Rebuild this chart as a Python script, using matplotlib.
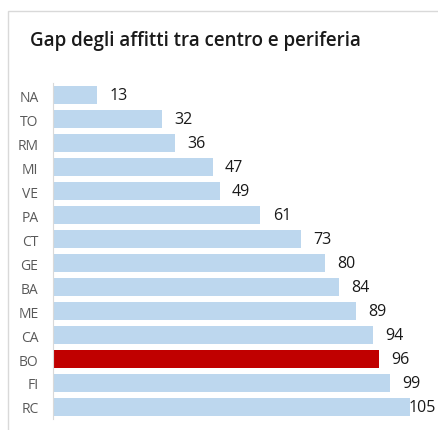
import matplotlib.pyplot as plt
from matplotlib.patches import Rectangle

cities = ["NA", "TO", "RM", "MI", "VE", "PA", "CT", "GE", "BA", "ME", "CA", "BO", "FI", "RC"]
gaps = [13, 32, 36, 47, 49, 61, 73, 80, 84, 89, 94, 96, 99, 105]
highlight = "BO"

W, H = 439, 431
fig = plt.figure(figsize=(W / 100, H / 100), dpi=100)

# chart frame (cut off on right and bottom in the reference)
fig.patches.append(Rectangle((8 / W, -0.1), 1.2, 1.1 - 12 / H, transform=fig.transFigure,
                             fill=False, edgecolor="#d9d9d9", linewidth=1))

fig.text(30 / W, 1 - 46 / H, "Gap degli affitti tra centro e periferia", fontsize=13.5,
         fontfamily="Open Sans", fontweight="semibold", color="#1a1a1a", va="baseline")

ax = fig.add_axes([53 / W, 1 - 420 / H, 1 - 53 / W, 336 / H])
colors = ["#C00000" if c == highlight else "#BDD7EE" for c in cities]
ypos = list(range(len(cities)))
ax.barh(ypos, gaps, height=0.76, color=colors)
ax.set_ylim(len(cities) - 0.5, -0.5)
ax.set_xlim(0, 386 / 3.4)

for y, v in zip(ypos, gaps):
    x = min(v + 3.6, 104.6)
    ax.text(x, y, str(v), va="center", ha="left", fontsize=11.5,
            fontfamily="Open Sans", color="#1a1a1a")

ax.set_yticks(ypos)
ax.set_yticklabels(cities, fontsize=10, color="#595959", fontfamily="Open Sans")
ax.tick_params(axis="y", length=0, pad=10.5)
ax.set_xticks([])
for s in ["top", "right", "bottom"]:
    ax.spines[s].set_visible(False)
ax.spines["left"].set_color("#d9d9d9")

fig.savefig("out.png", dpi=100)
